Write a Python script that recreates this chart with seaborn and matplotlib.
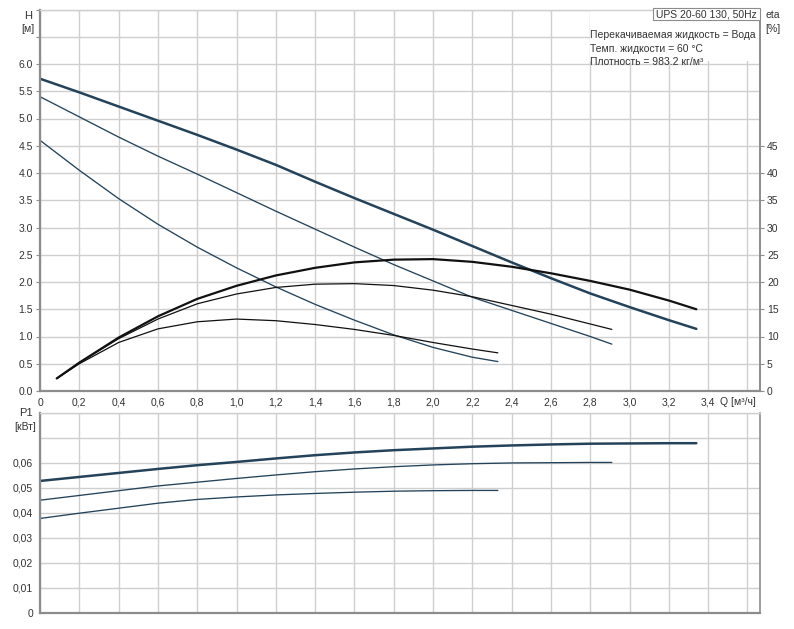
import matplotlib
matplotlib.use("Agg")
import matplotlib.pyplot as plt
import seaborn as sns
from matplotlib.patches import Rectangle

# ---------------- data ----------------
q_h3 = [0, 0.2, 0.4, 0.6, 0.8, 1.0, 1.2, 1.4, 1.6, 1.8, 2.0, 2.2, 2.4, 2.6, 2.8, 3.0, 3.2, 3.34]
h3 = [5.73, 5.48, 5.22, 4.96, 4.70, 4.43, 4.15, 3.84, 3.54, 3.25, 2.96, 2.66, 2.36, 2.07, 1.79, 1.54, 1.30, 1.14]

q_h2 = [0, 0.2, 0.4, 0.6, 0.8, 1.0, 1.2, 1.4, 1.6, 1.8, 2.0, 2.2, 2.4, 2.6, 2.8, 2.91]
h2 = [5.40, 5.03, 4.66, 4.31, 3.98, 3.64, 3.30, 2.97, 2.64, 2.32, 2.02, 1.72, 1.48, 1.24, 1.00, 0.86]

q_h1 = [0, 0.2, 0.4, 0.6, 0.8, 1.0, 1.2, 1.4, 1.6, 1.8, 2.0, 2.2, 2.33]
h1 = [4.60, 4.05, 3.53, 3.06, 2.64, 2.26, 1.91, 1.59, 1.30, 1.03, 0.80, 0.62, 0.54]

q_e3 = [0.085, 0.2, 0.4, 0.6, 0.8, 1.0, 1.2, 1.4, 1.6, 1.8, 2.0, 2.2, 2.4, 2.6, 2.8, 3.0, 3.2, 3.34]
e3 = [2.3, 5.2, 9.8, 13.7, 16.9, 19.3, 21.2, 22.6, 23.6, 24.1, 24.2, 23.7, 22.8, 21.6, 20.2, 18.6, 16.6, 15.0]

q_e2 = [0.085, 0.2, 0.4, 0.6, 0.8, 1.0, 1.2, 1.4, 1.6, 1.8, 2.0, 2.2, 2.4, 2.6, 2.8, 2.91]
e2 = [2.3, 5.2, 9.6, 13.2, 16.0, 17.8, 19.0, 19.6, 19.7, 19.35, 18.5, 17.3, 15.7, 14.1, 12.3, 11.3]

q_e1 = [0.085, 0.2, 0.4, 0.6, 0.8, 1.0, 1.2, 1.4, 1.6, 1.8, 2.0, 2.2, 2.33]
e1 = [2.3, 5.0, 8.9, 11.4, 12.7, 13.2, 12.9, 12.2, 11.3, 10.2, 8.9, 7.7, 7.0]

q_p3 = [0, 0.2, 0.4, 0.6, 0.8, 1.0, 1.2, 1.4, 1.6, 1.8, 2.0, 2.2, 2.4, 2.6, 2.8, 3.0, 3.2, 3.34]
p3 = [0.0527, 0.0543, 0.0559, 0.0575, 0.0590, 0.0603, 0.0617, 0.0630, 0.0641, 0.0650, 0.0657,
      0.0664, 0.0669, 0.0673, 0.0676, 0.0677, 0.0678, 0.0678]

q_p2 = [0, 0.2, 0.4, 0.6, 0.8, 1.0, 1.2, 1.4, 1.6, 1.8, 2.0, 2.2, 2.4, 2.6, 2.8, 2.91]
p2 = [0.0450, 0.0469, 0.0488, 0.0507, 0.0522, 0.0537, 0.0551, 0.0564, 0.0575, 0.0584, 0.0591,
      0.0596, 0.0599, 0.0600, 0.0601, 0.0601]

q_p1 = [0, 0.2, 0.4, 0.6, 0.8, 1.0, 1.2, 1.4, 1.6, 1.8, 2.0, 2.2, 2.33]
p1 = [0.0377, 0.0398, 0.0418, 0.0438, 0.0453, 0.0463, 0.0471, 0.0477, 0.0482, 0.0486, 0.0488, 0.0489, 0.0489]

q_ticks = [0, 0.2, 0.4, 0.6, 0.8, 1.0, 1.2, 1.4, 1.6, 1.8, 2.0, 2.2, 2.4, 2.6, 2.8, 3.0, 3.2, 3.4, 3.6]
q_labels = ["0", "0,2", "0,4", "0,6", "0,8", "1,0", "1,2", "1,4", "1,6", "1,8", "2,0", "2,2",
            "2,4", "2,6", "2,8", "3,0", "3,2", "3,4", ""]
h_ticks = [0, 0.5, 1.0, 1.5, 2.0, 2.5, 3.0, 3.5, 4.0, 4.5, 5.0, 5.5, 6.0, 6.5, 7.0]
h_labels = ["0.0", "0.5", "1.0", "1.5", "2.0", "2.5", "3.0", "3.5", "4.0", "4.5", "5.0", "5.5", "6.0", "", ""]
eta_ticks = [0, 5, 10, 15, 20, 25, 30, 35, 40, 45]
eta_labels = ["0", "5", "10", "15", "20", "25", "30", "35", "40", "45"]
p_ticks = [0, 0.01, 0.02, 0.03, 0.04, 0.05, 0.06, 0.07, 0.08]
p_labels = ["0", "0,01", "0,02", "0,03", "0,04", "0,05", "0,06", "", ""]

title_txt = "UPS 20-60 130, 50Hz"
info_lines = ["Перекачиваемая жидкость = Вода", "Темп. жидкости = 60 °C", "Плотность = 983.2 кг/м³"]

# ---------------- style ----------------
sns.set_style("white")
plt.rcParams["font.family"] = ["Liberation Sans", "DejaVu Sans"]
FS = 7.5
plt.rcParams["font.size"] = FS
plt.rcParams["lines.solid_joinstyle"] = "round"
TXT = "#333333"
GRID = "#cfcfcf"
SPINE = "#8c8c8c"
BLUE = "#24435a"
BLACK = "#111111"

W, H = 794, 629
fig = plt.figure(figsize=(W / 100, H / 100), dpi=100)
fig.patch.set_facecolor("white")

def fx(px):
    return px / W

def fy(py):
    return 1 - py / H

ax = fig.add_axes([fx(40), fy(391), fx(720), 381.5 / H])
axp = fig.add_axes([fx(40), fy(612.7), fx(720), 200 / H])

xlim = (0, 3.664)

def style_axes(a):
    a.set_axisbelow(True)
    a.grid(True, color=GRID, linewidth=1.0)
    a.tick_params(axis="both", direction="out", length=3, width=0.8, color=SPINE,
                  labelsize=FS, labelcolor=TXT, pad=2)
    a.spines["left"].set_color(SPINE)
    a.spines["left"].set_linewidth(1.6)
    a.spines["bottom"].set_color(SPINE)
    a.spines["bottom"].set_linewidth(1.6)
    a.spines["right"].set_color(SPINE)
    a.spines["right"].set_linewidth(1.2)
    a.spines["top"].set_color(GRID)
    a.spines["top"].set_linewidth(1.0)

# ---------------- top: H and eta ----------------
style_axes(ax)
sns.lineplot(x=q_h3, y=h3, ax=ax, color=BLUE, linewidth=1.8, sort=False)
sns.lineplot(x=q_h2, y=h2, ax=ax, color=BLUE, linewidth=0.95, sort=False)
sns.lineplot(x=q_h1, y=h1, ax=ax, color=BLUE, linewidth=0.95, sort=False)

ax2 = ax.twinx()
ax2.set_ylim(0, 70)
sns.lineplot(x=q_e3, y=e3, ax=ax2, color=BLACK, linewidth=1.6, sort=False)
sns.lineplot(x=q_e2, y=e2, ax=ax2, color=BLACK, linewidth=0.9, sort=False)
sns.lineplot(x=q_e1, y=e1, ax=ax2, color=BLACK, linewidth=0.9, sort=False)
for s in ["left", "top", "bottom"]:
    ax2.spines[s].set_visible(False)
ax2.spines["right"].set_color(SPINE)
ax2.spines["right"].set_linewidth(1.2)
ax2.set_yticks(eta_ticks)
ax2.set_yticklabels(eta_labels)
ax2.tick_params(axis="y", direction="out", length=3, width=0.8, color=SPINE,
                labelsize=FS, labelcolor=TXT, pad=2)
ax2.set_ylabel("")
ax2.grid(False)

ax.set_xlim(*xlim)
ax.set_ylim(0, 7.0)
ax.set_xticks(q_ticks)
ax.set_xticklabels(q_labels)
ax.set_yticks(h_ticks)
ax.set_yticklabels(h_labels)
ax.set_xlabel("")
ax.set_ylabel("")
ax2.set_xlim(*xlim)

# white area behind the info text
ax.add_patch(Rectangle((2.8, 6.05), xlim[1] - 2.8, 0.95, transform=ax.transData,
                       facecolor="white", edgecolor="none", zorder=1))

# ---------------- bottom: P1 ----------------
style_axes(axp)
sns.lineplot(x=q_p3, y=p3, ax=axp, color=BLUE, linewidth=1.8, sort=False)
sns.lineplot(x=q_p2, y=p2, ax=axp, color=BLUE, linewidth=0.95, sort=False)
sns.lineplot(x=q_p1, y=p1, ax=axp, color=BLUE, linewidth=0.95, sort=False)
axp.set_xlim(*xlim)
axp.set_ylim(0, 0.08)
axp.set_xticks(q_ticks)
axp.set_xticklabels([])
axp.set_yticks(p_ticks)
axp.set_yticklabels(p_labels)
axp.set_xlabel("")
axp.set_ylabel("")

# ---------------- texts ----------------
fig.text(fx(28), fy(16), "H", ha="center", va="center", fontsize=8, color=TXT)
fig.text(fx(28), fy(29), "[м]", ha="center", va="center", fontsize=FS, color=TXT)
fig.text(fx(26), fy(413), "P1", ha="center", va="center", fontsize=8, color=TXT)
fig.text(fx(25), fy(427), "[кВт]", ha="center", va="center", fontsize=FS, color=TXT)
fig.text(fx(773), fy(15), "eta", ha="center", va="center", fontsize=FS, color=TXT)
fig.text(fx(773), fy(29), "[%]", ha="center", va="center", fontsize=FS, color=TXT)
fig.text(fx(738), fy(402), "Q [м³/ч]", ha="center", va="center", fontsize=FS, color=TXT)

# title box
fig.patches.append(Rectangle((fx(653), fy(20)), fx(107), 12 / H, transform=fig.transFigure,
                             facecolor="white", edgecolor=SPINE, linewidth=0.8, zorder=5))
fig.text(fx(706.5), fy(14.5), title_txt, ha="center", va="center", fontsize=FS, color=TXT, zorder=6)

for i, line in enumerate(info_lines):
    fig.text(fx(590), fy(35 + 13.5 * i), line, ha="left", va="center", fontsize=FS, color=TXT, zorder=6)

fig.savefig("out.png", dpi=100, facecolor="white")
